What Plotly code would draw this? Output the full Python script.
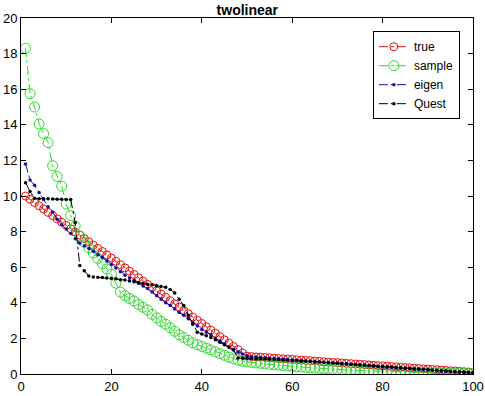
import plotly.graph_objects as go

idx = list(range(1, 101))

true_vals = [10.00, 9.82, 9.63, 9.45, 9.27, 9.08, 8.90, 8.71, 8.53, 8.35,
             8.16, 7.98, 7.80, 7.61, 7.43, 7.24, 7.06, 6.88, 6.69, 6.51,
             6.33, 6.14, 5.96, 5.78, 5.59, 5.41, 5.22, 5.04, 4.86, 4.67,
             4.49, 4.31, 4.12, 3.94, 3.76, 3.57, 3.39, 3.20, 3.02, 2.84,
             2.65, 2.47, 2.29, 2.10, 1.92, 1.73, 1.55, 1.37, 1.18, 1.00,
             0.98, 0.96, 0.95, 0.93, 0.91, 0.89, 0.87, 0.85, 0.84, 0.82,
             0.80, 0.78, 0.76, 0.75, 0.73, 0.71, 0.69, 0.67, 0.65, 0.64,
             0.62, 0.60, 0.58, 0.56, 0.55, 0.53, 0.51, 0.49, 0.47, 0.46,
             0.44, 0.42, 0.40, 0.38, 0.36, 0.35, 0.33, 0.31, 0.29, 0.27,
             0.26, 0.24, 0.22, 0.20, 0.18, 0.17, 0.15, 0.13, 0.11, 0.10]

sample_vals = [18.3, 15.75, 15.0, 14.05, 13.5, 13.0, 11.7, 11.1, 10.55, 9.55,
               8.9, 8.3, 7.75, 7.4, 7.1, 6.8, 6.5, 6.2, 5.9, 5.6,
               5.1, 4.6, 4.4, 4.25, 4.1, 3.9, 3.75, 3.6, 3.35, 3.15,
               2.95, 2.8, 2.6, 2.4, 2.2, 2.05, 1.9, 1.75, 1.65, 1.55,
               1.45, 1.35, 1.25, 1.15, 1.05, 0.95, 0.85, 0.78, 0.72, 0.68,
               0.65, 0.62, 0.60, 0.57, 0.54, 0.52, 0.50, 0.47, 0.45, 0.43,
               0.41, 0.39, 0.37, 0.35, 0.33, 0.31, 0.29, 0.28, 0.26, 0.25,
               0.24, 0.22, 0.21, 0.20, 0.19, 0.18, 0.17, 0.16, 0.15, 0.14,
               0.13, 0.12, 0.11, 0.10, 0.10, 0.09, 0.08, 0.08, 0.07, 0.07,
               0.06, 0.06, 0.05, 0.05, 0.04, 0.04, 0.03, 0.03, 0.02, 0.02]

eigen_vals = [11.8, 10.9, 10.6, 10.2, 9.8, 9.4, 9.1, 8.7, 8.4, 8.15,
              7.9, 7.6, 7.35, 7.2, 7.05, 6.9, 6.7, 6.55, 6.35, 6.15,
              5.95, 5.75, 5.55, 5.4, 5.25, 5.1, 4.95, 4.8, 4.6, 4.4,
              4.2, 4.0, 3.85, 3.65, 3.45, 3.3, 3.1, 2.9, 2.7, 2.5,
              2.35, 2.2, 2.0, 1.85, 1.7, 1.53, 1.38, 1.25, 1.12, 1.02,
              0.97, 0.95, 0.93, 0.91, 0.89, 0.87, 0.85, 0.83, 0.81, 0.79,
              0.77, 0.75, 0.73, 0.71, 0.70, 0.68, 0.66, 0.64, 0.62, 0.60,
              0.58, 0.56, 0.54, 0.52, 0.50, 0.48, 0.46, 0.44, 0.42, 0.40,
              0.38, 0.36, 0.34, 0.32, 0.30, 0.29, 0.27, 0.25, 0.23, 0.21,
              0.19, 0.17, 0.16, 0.14, 0.12, 0.11, 0.10, 0.09, 0.08, 0.07]

quest_vals = [10.75, 10.25, 9.87, 9.85, 9.85, 9.85, 9.83, 9.82, 9.82, 9.81,
              9.8, 8.5, 6.1, 5.8, 5.5, 5.45, 5.43, 5.42, 5.4, 5.38,
              5.35, 5.3, 5.28, 5.22, 5.18, 5.12, 5.08, 5.03, 5.0, 4.96,
              4.92, 4.87, 4.75, 4.55, 4.2, 3.85, 3.3, 2.8, 2.35, 2.25,
              2.15, 2.05, 1.92, 1.78, 1.65, 1.5, 1.35, 0.9, 0.89, 0.88,
              0.87, 0.86, 0.85, 0.84, 0.83, 0.81, 0.80, 0.78, 0.77, 0.75,
              0.74, 0.72, 0.71, 0.70, 0.68, 0.67, 0.65, 0.63, 0.62, 0.60,
              0.58, 0.57, 0.55, 0.53, 0.51, 0.50, 0.48, 0.46, 0.44, 0.43,
              0.41, 0.39, 0.37, 0.36, 0.34, 0.32, 0.30, 0.28, 0.27, 0.25,
              0.23, 0.21, 0.20, 0.18, 0.16, 0.14, 0.13, 0.11, 0.10, 0.08]

x_ticks = [0, 20, 40, 60, 80, 100]
y_ticks = [0, 2, 4, 6, 8, 10, 12, 14, 16, 18, 20]

fig = go.Figure()
fig.add_trace(go.Scatter(x=idx, y=true_vals, name="true", mode="lines+markers",
                         line=dict(color="#e81010", width=1, dash="dashdot"),
                         marker=dict(symbol="circle-open", size=8, color="#e81010", line=dict(width=1))))
fig.add_trace(go.Scatter(x=idx, y=sample_vals, name="sample", mode="lines+markers",
                         line=dict(color="#30d830", width=1, dash="dashdot"),
                         marker=dict(symbol="circle-open", size=10, color="#30d830", line=dict(width=1))))
fig.add_trace(go.Scatter(x=idx, y=eigen_vals, name="eigen", mode="lines+markers",
                         line=dict(color="#1111b0", width=1, dash="dashdot"),
                         marker=dict(symbol="circle", size=3.5, color="#1111b0")))
fig.add_trace(go.Scatter(x=idx, y=quest_vals, name="Quest", mode="lines+markers",
                         line=dict(color="#000000", width=1, dash="dashdot"),
                         marker=dict(symbol="circle", size=3.5, color="#000000")))

axis_style = dict(showline=True, linecolor="black", linewidth=1, mirror="ticks",
                  ticks="inside", ticklen=5, tickcolor="black", showgrid=False,
                  zeroline=False, automargin=False,
                  tickfont=dict(size=13, color="black"))

fig.update_layout(
    width=485, height=396,
    margin=dict(l=21, r=12, t=18, b=22),
    paper_bgcolor="white", plot_bgcolor="white",
    font=dict(family="Liberation Sans, Arial, sans-serif", color="black"),
    title=dict(text="<b>twolinear</b>", x=0.51, xanchor="center", y=0.975, yanchor="middle",
               font=dict(size=14, color="black")),
    legend=dict(x=0.971, y=0.963, xanchor="right", yanchor="top",
                bordercolor="black", borderwidth=1, bgcolor="white",
                font=dict(size=12, color="black"), tracegroupgap=0),
    showlegend=True,
)
fig.update_xaxes(range=[0, 100], tickvals=x_ticks, **axis_style)
fig.update_yaxes(range=[0, 20], tickvals=y_ticks, **axis_style)

# page has an 8px body margin by default; drop it so the chart sits at the corner
fig.write_html("out.html", config={"displayModeBar": False},
               post_script="document.body.style.margin='0';")
